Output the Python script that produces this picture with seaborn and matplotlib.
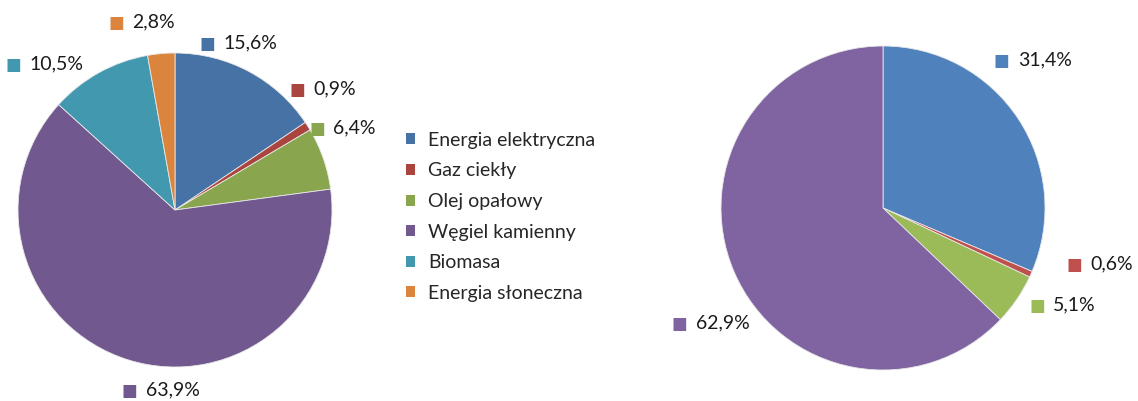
import numpy as np
import matplotlib
matplotlib.use("Agg")
import matplotlib.pyplot as plt
import seaborn as sns
from matplotlib.patches import Patch

# dane
kategorie = ["Energia elektryczna", "Gaz ciekły", "Olej opałowy",
             "Węgiel kamienny", "Biomasa", "Energia słoneczna"]
udzialy_lewy = [15.6, 0.9, 6.4, 63.9, 10.5, 2.8]
etykiety_lewy = ["15,6%", "0,9%", "6,4%", "63,9%", "10,5%", "2,8%"]
udzialy_prawy = [31.4, 0.6, 5.1, 62.9]
etykiety_prawy = ["31,4%", "0,6%", "5,1%", "62,9%"]

kolory_lewy = ["#4672A6", "#A9443F", "#89A54E", "#71588F", "#4198AF", "#DB843D"]
kolory_prawy = ["#4F81BD", "#C0504D", "#9BBB59", "#8064A2"]

# polozenie etykiet: odleglosc (w promieniach) i przesuniecie kata (stopnie)
odl_lewy = [1.144, 1.227, 1.202, 1.149, 1.237, 1.212]
obrot_lewy = [6.6, 6.7, 6.6, 13.4, 12.2, 4.4]
odl_prawy = [1.31, 1.395, 1.273, 1.267]
obrot_prawy = [10.8, 9.7, 6.3, 10.9]

sns.set_theme(style="white")
plt.rcParams['font.family'] = ['Lato', 'DejaVu Sans']
FS = 14

fig = plt.figure(figsize=(11.38, 4.01), dpi=100)
W, H = 1138, 401


def os_kola(cx, cy, r):
    return fig.add_axes([(cx - r) / W, (H - cy - r) / H, 2 * r / W, 2 * r / H])


def rysuj(ax, wartosci, kolory, etykiety, odl, obrot):
    wedges, _ = ax.pie(wartosci, colors=kolory, startangle=90, counterclock=False,
                       wedgeprops=dict(linewidth=0.6, edgecolor="#e8e8e8"))
    ax.set_xlim(-1, 1)
    ax.set_ylim(-1, 1)
    ax.set_aspect("equal")
    ax.axis("off")
    for w, et, d, o, kol in zip(wedges, etykiety, odl, obrot, kolory):
        kat = np.deg2rad((w.theta1 + w.theta2) / 2 + o)
        x, y = d * np.cos(kat), d * np.sin(kat)
        t = ax.annotate(et, (x, y), xytext=(7, 0), textcoords="offset points",
                        ha="center", va="center", color="#1a1a1a", fontsize=FS,
                        annotation_clip=False)
        ax.annotate("■", xy=(0, 0.45), xycoords=t, xytext=(-6, 0),
                    textcoords="offset points", ha="right", va="center",
                    color=kol, fontsize=12, family=["DejaVu Sans"],
                    annotation_clip=False)


ax1 = os_kola(175, 210, 157)
rysuj(ax1, udzialy_lewy, kolory_lewy, etykiety_lewy, odl_lewy, obrot_lewy)

ax2 = os_kola(883, 208, 162)
rysuj(ax2, udzialy_prawy, kolory_prawy, etykiety_prawy, odl_prawy, obrot_prawy)

uchwyty = [Patch(facecolor=k, edgecolor="none") for k in kolory_lewy]
fig.legend(uchwyty, kategorie, loc="upper left", bbox_to_anchor=(398 / W, 1 - 124 / H),
           frameon=False, fontsize=FS, handlelength=0.5, handleheight=0.5,
           handletextpad=0.65, labelspacing=0.70, borderaxespad=0)

fig.savefig("out.png", dpi=100)
